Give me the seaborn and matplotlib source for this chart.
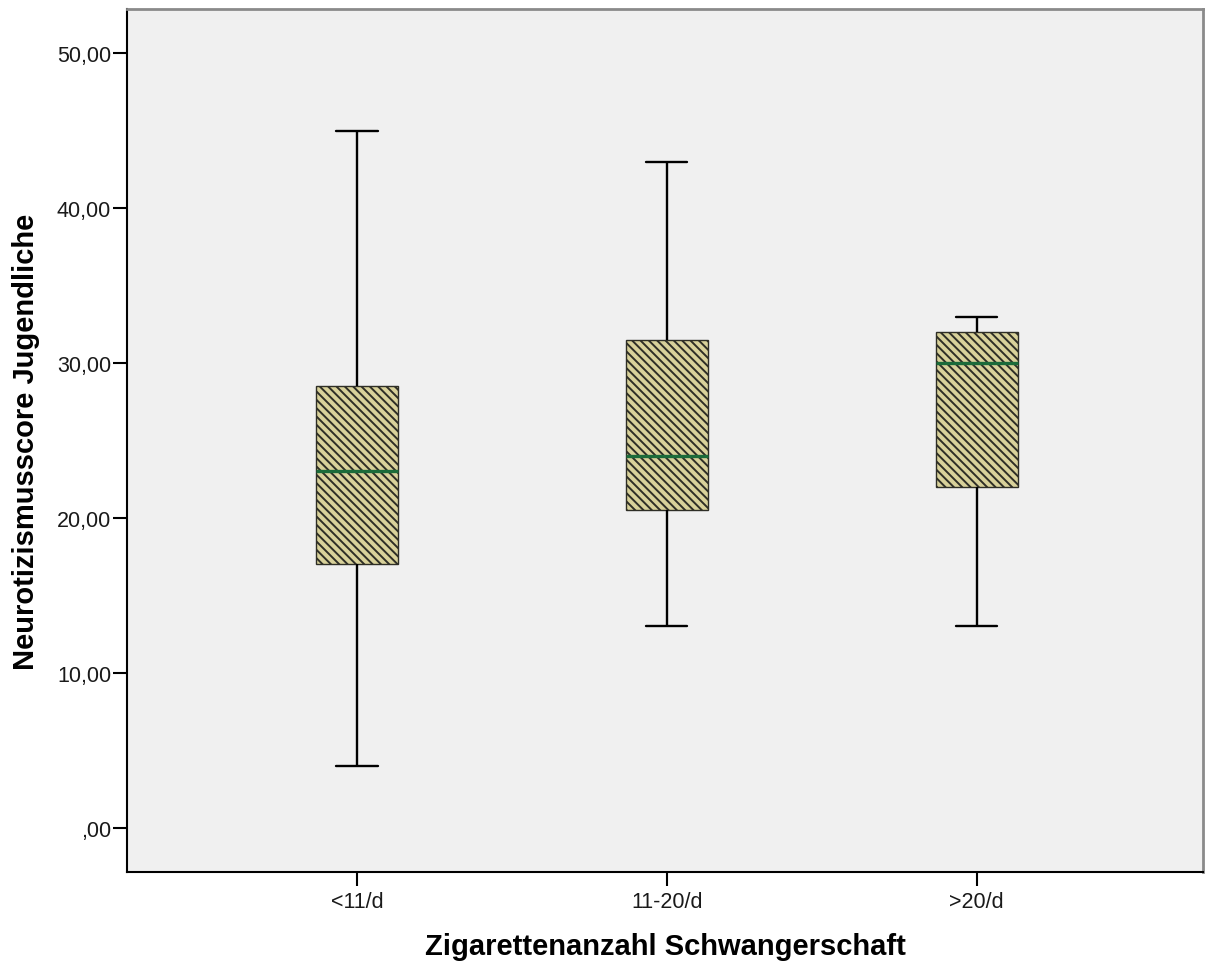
import numpy as np
import pandas as pd
import matplotlib
matplotlib.use("Agg")
import matplotlib.pyplot as plt
import seaborn as sns

categories = ["<11/d", "11-20/d", ">20/d"]
whisker_low = [4.0, 13.0, 13.0]
q1_values = [17.0, 20.5, 22.0]
medians = [23.0, 24.0, 30.0]
q3_values = [28.5, 31.5, 32.0]
whisker_high = [45.0, 43.0, 33.0]
y_ticks = [0, 10, 20, 30, 40, 50]
y_tick_labels = [",00", "10,00", "20,00", "30,00", "40,00", "50,00"]

rows = []
for c, lo, a, m, b, hi in zip(categories, whisker_low, q1_values, medians, q3_values, whisker_high):
    for v in (lo, a, m, b, hi):
        rows.append({"group": c, "value": v})
df = pd.DataFrame(rows)

sns.set_style("white")
plt.rcParams["font.family"] = ["Liberation Sans", "DejaVu Sans"]
plt.rcParams["hatch.linewidth"] = 1.4

fig = plt.figure(figsize=(12.05, 9.62), dpi=100)
ax = fig.add_axes([127/1205, 89/962, 1076/1205, 863/962])
ax.set_facecolor("#f0f0f0")

sns.boxplot(data=df, x="group", y="value", order=categories, ax=ax,
            color="#d8d19a", saturation=1, width=0.266, whis=np.inf,
            linecolor="#222222", linewidth=1.0,
            medianprops=dict(color="#1b6b3a", linewidth=2.4),
            whiskerprops=dict(color="black", linewidth=1.7),
            capprops=dict(color="black", linewidth=1.7),
            boxprops=dict(edgecolor="#333333"))

for p in ax.patches:
    p.set_hatch("\\\\\\\\")
    p.set_edgecolor("#2e2e26")

ax.set_xlim(-0.742, 2.73)
ax.set_ylim(-2.84, 52.84)
ax.set_yticks(y_ticks)
ax.set_yticklabels(y_tick_labels)
ax.tick_params(axis="y", direction="out", length=10, width=1.5, labelsize=15.5, pad=1.5, left=True, colors="black")
ax.tick_params(axis="x", direction="out", length=10, width=1.5, labelsize=15.5, pad=4, bottom=True, colors="black")
for t in ax.get_xticklabels() + ax.get_yticklabels():
    t.set_color("#1a1a1a")

for s in ["left", "bottom"]:
    ax.spines[s].set_color("black")
    ax.spines[s].set_linewidth(1.5)
for s in ["top", "right"]:
    ax.spines[s].set_color("#8a8a8a")
    ax.spines[s].set_linewidth(2)
    ax.spines[s].set_visible(True)

ax.set_xlabel("Zigarettenanzahl Schwangerschaft", fontsize=21, fontweight="bold", labelpad=14, color="black")
ax.set_ylabel("Neurotizismusscore Jugendliche", fontsize=21, fontweight="bold", labelpad=12, color="black")

fig.savefig("out.png", dpi=100)
